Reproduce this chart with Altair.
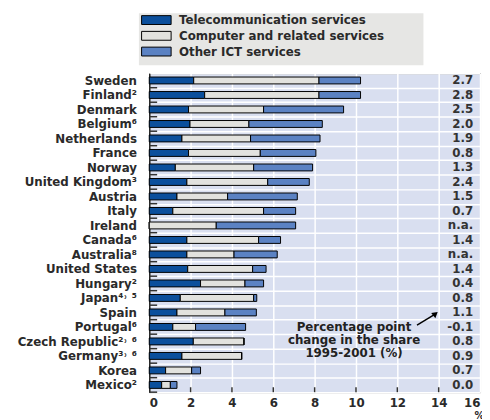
import altair as alt
import pandas as pd

countries = ["Sweden", "Finland²", "Denmark", "Belgium⁶", "Netherlands", "France",
             "Norway", "United Kingdom³", "Austria", "Italy", "Ireland", "Canada⁶",
             "Australia⁸", "United States", "Hungary²", "Japan⁴˒ ⁵", "Spain",
             "Portugal⁶", "Czech Republic²˒ ⁶", "Germany³˒ ⁶", "Korea", "Mexico²"]
telecom = [2.15, 2.68, 1.90, 1.97, 1.58, 1.90, 1.26, 1.82, 1.34, 1.14, 0.0, 1.82,
           1.82, 1.86, 2.48, 1.50, 1.34, 1.14, 2.13, 1.58, 0.79, 0.60]
computer = [6.06, 5.53, 3.63, 2.85, 3.32, 3.47, 3.79, 3.91, 2.45, 4.39, 3.24, 3.47,
            2.28, 3.14, 2.15, 3.55, 2.32, 1.10, 2.45, 2.89, 1.26, 0.42]
other = [2.01, 2.01, 3.87, 3.55, 3.36, 2.69, 2.85, 2.01, 3.37, 1.55, 3.84, 1.06,
         2.09, 0.65, 0.90, 0.15, 1.52, 2.42, 0.0, 0.0, 0.43, 0.32]
change = ["2.7", "2.8", "2.5", "2.0", "1.9", "0.8", "1.3", "2.4", "1.5", "0.7", "n.a.",
          "1.4", "n.a.", "1.4", "0.4", "0.8", "1.1", "-0.1", "0.8", "0.9", "0.7", "0.0"]
series_names = ["Telecommunication services", "Computer and related services", "Other ICT services"]
series_colors = ["#0b4f9c", "#e2e2de", "#5b82c3"]
x_ticks = [0, 2, 4, 6, 8, 10, 12, 14, 16]
inner_ticks = [2, 4, 6, 8, 10, 12, 14]

rows = []
for i, c in enumerate(countries):
    for k, vals in enumerate([telecom, computer, other]):
        rows.append({"country": c, "series": series_names[k], "order": k, "value": vals[i]})
df = pd.DataFrame(rows)
cdf = pd.DataFrame({"country": countries, "change": change})

FONT = "DejaVu Sans"
W, H = 336, 324

yenc = alt.Y("country:N", sort=countries, title=None,
             scale=alt.Scale(paddingInner=0, paddingOuter=0),
             axis=alt.Axis(grid=True, gridColor="white", gridWidth=1.5, tickBand="extent",
                           ticks=False, domain=True, domainColor="#222", domainWidth=1.5,
                           labelFont=FONT, labelFontSize=12, labelFontWeight="bold",
                           labelColor="#2a2a2a", labelPadding=13))

bars = alt.Chart(df).mark_bar(size=7, stroke="black", strokeWidth=1).encode(
    x=alt.X("value:Q", stack="zero", title="%",
            scale=alt.Scale(domain=[0, 16], nice=False),
            axis=alt.Axis(values=x_ticks, grid=True, gridColor="white", gridWidth=1.5,
                          domain=False, ticks=False, labelFont=FONT, labelFontSize=12,
                          labelFontWeight="bold", labelColor="#2a2a2a", labelPadding=6,
                          titleFont=FONT, titleFontSize=10, titleFontWeight="bold",
                          titleColor="#2a2a2a", titleX=335, titleY=24, titleBaseline="middle",
                          titleAlign="center")),
    y=yenc,
    color=alt.Color("series:N", sort=series_names,
                    scale=alt.Scale(domain=series_names, range=series_colors),
                    legend=alt.Legend(title=None, orient="none", legendX=1.2, legendY=-60,
                                      symbolType="M-3,-0.9h6v1.8h-6z", symbolSize=100,
                                      symbolStrokeColor="black", symbolStrokeWidth=1,
                                      symbolOpacity=1, labelLimit=400, padding=0,
                                      labelFont=FONT, labelFontSize=12, labelFontWeight="bold",
                                      labelColor="#2a2a2a", rowPadding=2, labelOffset=17)),
    order=alt.Order("order:Q"),
)

legend_bg = alt.Chart(pd.DataFrame({"a": [0]})).mark_rect(color="#e6e6e4").encode(
    x=alt.value(-10.5), x2=alt.value(278.5), y=alt.value(-61), y2=alt.value(-8))

left_ticks = alt.Chart(cdf).mark_rule(color="#333", strokeWidth=1.5).encode(
    y=alt.Y("country:N", sort=countries, bandPosition=1),
    x=alt.value(0), x2=alt.value(8))

bottom_ticks = alt.Chart(pd.DataFrame({"t": inner_ticks})).mark_rule(color="#333", strokeWidth=1.5).encode(
    x=alt.X("t:Q"), y=alt.value(H - 5), y2=alt.value(H))

values_text = alt.Chart(cdf).mark_text(align="right", baseline="middle", font=FONT,
                                       fontSize=12, fontWeight="bold", color="#333").encode(
    y=alt.Y("country:N", sort=countries), x=alt.value(329), text="change:N")

note = alt.Chart(pd.DataFrame({"t": ["Percentage point\nchange in the share\n1995-2001 (%)"]})).mark_text(
    align="center", baseline="middle", lineBreak="\n", lineHeight=13, font=FONT,
    fontSize=12, fontWeight="bold", color="#222").encode(
    x=alt.value(208), y=alt.value(258), text="t:N")

arrow = alt.Chart(pd.DataFrame({"a": [0]})).mark_rule(color="black", strokeWidth=1.5).encode(
    x=alt.value(272), y=alt.value(256), x2=alt.value(290), y2=alt.value(245))
head = alt.Chart(pd.DataFrame({"a": [0]})).mark_point(shape="triangle", filled=True, color="black",
                                                      size=45, angle=51, opacity=1).encode(
    x=alt.value(290), y=alt.value(245))

chart = alt.layer(legend_bg, bars, left_ticks, bottom_ticks, values_text, note, arrow, head).properties(
    width=W, height=H, autosize=alt.AutoSizeParams(type="none"),
    padding={"left": 143.5, "top": 63, "right": 2, "bottom": 24},
).configure_view(fill="#d9dff0", stroke="#222", strokeWidth=1)

chart.save("out.html", embed_options={"renderer": "svg", "actions": False})
